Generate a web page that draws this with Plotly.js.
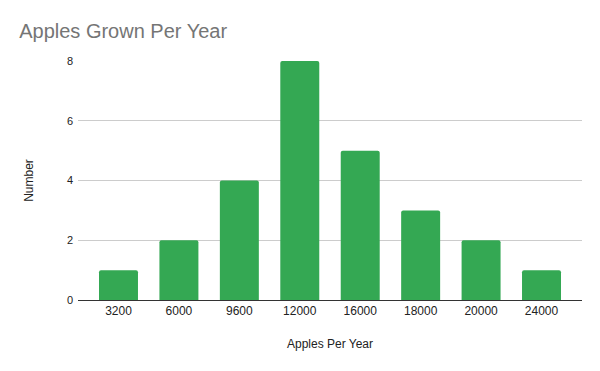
<!DOCTYPE html>
<html><head><meta charset="utf-8">
<script src="https://cdn.plot.ly/plotly-3.0.1.min.js"></script>
<style>html,body{margin:0;padding:0;background:#fff}#chart{width:600px;height:371px}</style>
</head><body><div id="chart"></div>
<script>
const categories = ["3200","6000","9600","12000","16000","18000","20000","24000"];
const counts = [1,2,4,8,5,3,2,1];
const yTicks = [0,2,4,6,8];

Plotly.newPlot('chart', [{
  type: 'bar', x: categories, y: counts,
  marker: {color: '#34a853', cornerradius: 2},
  hoverinfo: 'none'
}], {
  width: 600, height: 371,
  margin: {l: 78, r: 18, t: 61, b: 71},
  paper_bgcolor: '#fff', plot_bgcolor: '#fff',
  font: {family: 'Liberation Sans, Arial, sans-serif', size: 12, color: '#222'},
  title: {text: 'Apples Grown Per Year', font: {size: 20, color: '#757575'}, x: 0.032, xanchor: 'left', y: 0.916, yanchor: 'middle'},
  bargap: 0.355,
  xaxis: {type: 'category', range: [-0.67, 7.67], title: {text: 'Apples Per Year', font: {size: 12, color: '#222'}, standoff: 22},
    showline: true, linecolor: '#333333', linewidth: 1, ticks: '', tickfont: {size: 12, color: '#222'}, showgrid: false},
  yaxis: {range: [0, 8], tickvals: yTicks, title: {text: 'Number', font: {size: 12, color: '#222'}, standoff: 30},
    gridcolor: '#cccccc', zeroline: false, ticks: '', tickfont: {size: 11, color: '#222'}, ticklabelstandoff: 4},
  showlegend: false
}, {displayModeBar: false, staticPlot: true});
</script></body></html>
